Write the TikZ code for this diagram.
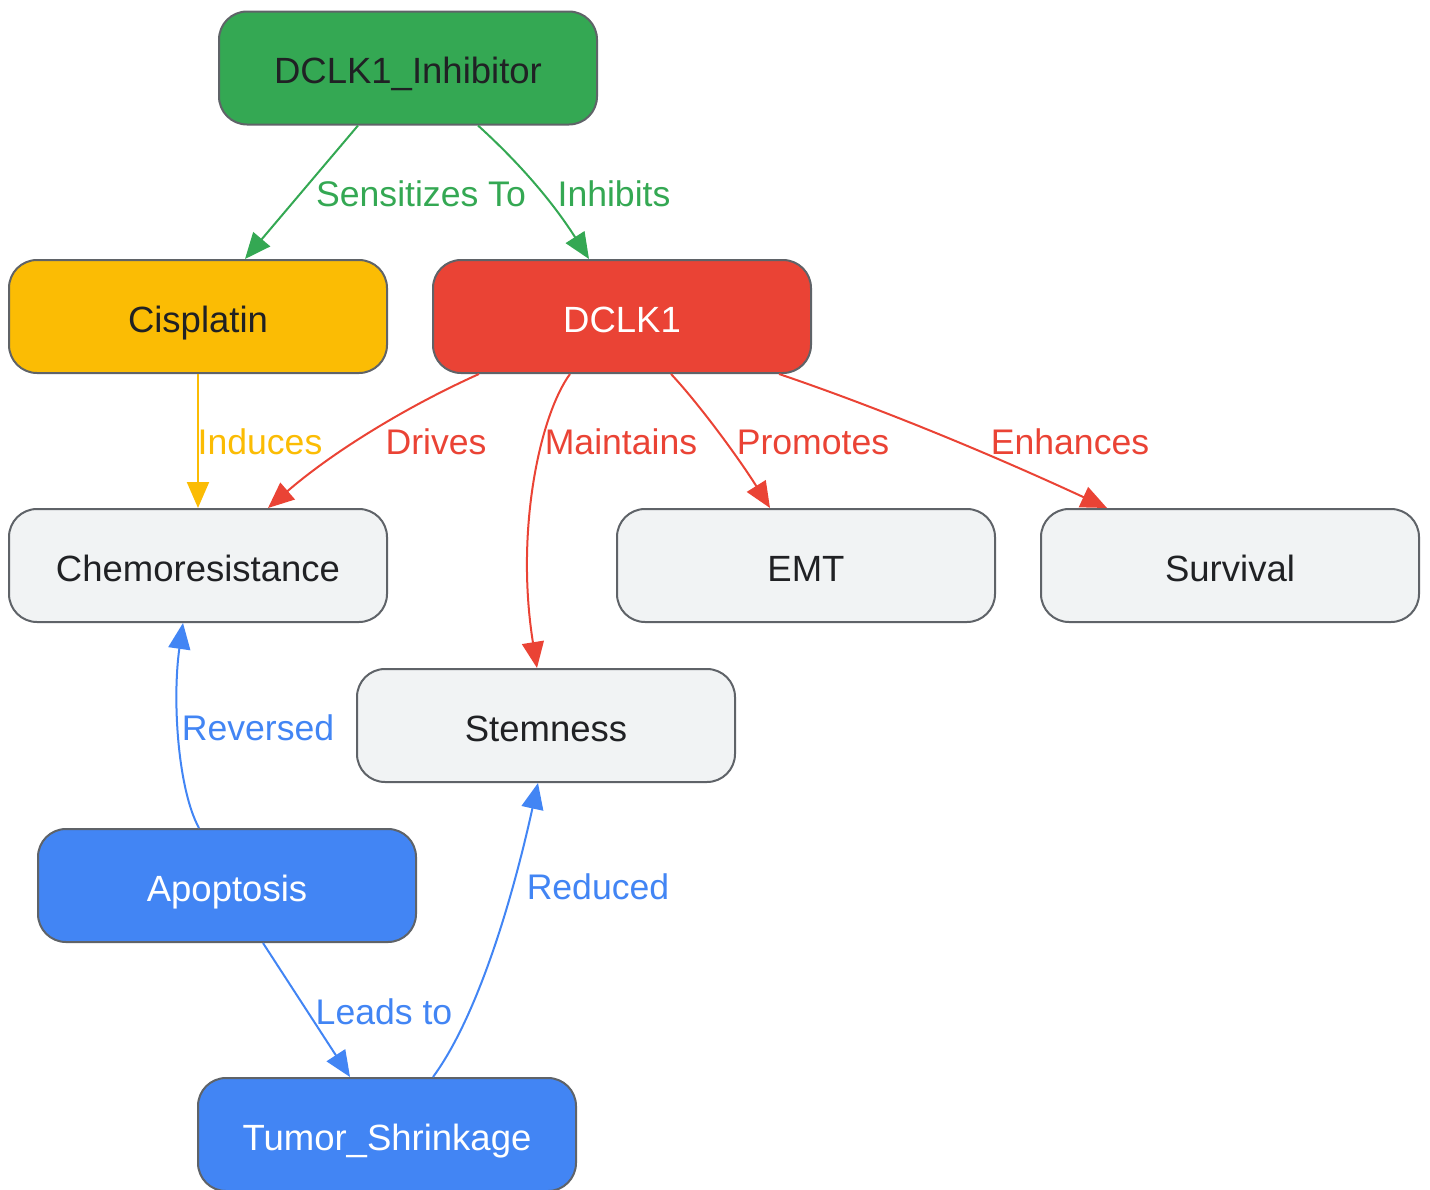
\documentclass[tikz,border=0pt]{standalone}
\usepackage{fontspec}
\setmainfont{Liberation Sans}
\usetikzlibrary{arrows.meta}
\definecolor{gGreen}{HTML}{34A853}
\definecolor{gYellow}{HTML}{FBBC04}
\definecolor{gRed}{HTML}{EA4335}
\definecolor{gBlue}{HTML}{4285F4}
\definecolor{gGrey}{HTML}{F1F3F4}
\definecolor{gBorder}{HTML}{5F6368}
\definecolor{gText}{HTML}{202124}
\begin{document}
\begin{tikzpicture}[x=0.5pt,y=-0.5pt,
  box/.style={draw=gBorder, line width=1pt, rounded corners=14pt,
    minimum width=189pt, minimum height=56.5pt, inner sep=0pt,
    text height=15.5pt, text depth=0pt,
    font=\fontsize{18.25}{22}\selectfont, text=gText},
  greenbox/.style={box, fill=gGreen},
  yellowbox/.style={box, fill=gYellow},
  redbox/.style={box, fill=gRed, text=white},
  greybox/.style={box, fill=gGrey},
  bluebox/.style={box, fill=gBlue, text=white},
  conn/.style={line width=1pt, -{Triangle[length=13pt,width=11pt]}},
  lbl/.style={font=\fontsize{17.8}{22}\selectfont, inner sep=0pt}
]
\useasboundingbox (0,0) rectangle (1430,1189);

\node[greenbox] (inh) at (408,68) {DCLK1\_Inhibitor};
\node[yellowbox] (cis) at (198,316.5) {Cisplatin};
\node[redbox] (dclk) at (622,316.5) {DCLK1};
\node[greybox] (chemo) at (198,565.5) {Chemoresistance};
\node[greybox] (emt) at (806,565.5) {EMT};
\node[greybox] (surv) at (1230,565.5) {Survival};
\node[greybox] (stem) at (546,725.5) {Stemness};
\node[bluebox] (apop) at (227,885.5) {Apoptosis};
\node[bluebox] (tumor) at (387,1134.5) {Tumor\_Shrinkage};

% DCLK1_Inhibitor edges
\draw[conn, gGreen] ([xshift=-25pt]inh.south) -- ([xshift=23.5pt]cis.north)
  node[lbl, text=gGreen] at (421,194) {Sensitizes To};
\draw[conn, gGreen] ([xshift=35pt]inh.south) .. controls (505,150) and (545,190) .. ([xshift=-16.5pt]dclk.north)
  node[lbl, text=gGreen] at (614,194) {Inhibits};

% Cisplatin
\draw[conn, gYellow] (cis.south) -- (chemo.north)
  node[lbl, text=gYellow] at (260,442) {Induces};

% DCLK1 edges
\draw[conn, gRed] ([xshift=-71.5pt]dclk.south) .. controls (410,405) and (335,450) .. ([xshift=35pt]chemo.north)
  node[lbl, text=gRed] at (436,442) {Drives};
\draw[conn, gRed] ([xshift=-26pt]dclk.south) .. controls (540,415) and (515,530) .. ([xshift=-4.5pt]stem.north)
  node[lbl, text=gRed] at (621,442) {Maintains};
\draw[conn, gRed] ([xshift=24.5pt]dclk.south) .. controls (700,405) and (740,460) .. ([xshift=-18pt]emt.north)
  node[lbl, text=gRed] at (813,442) {Promotes};
\draw[conn, gRed] ([xshift=78.5pt]dclk.south) .. controls (850,398) and (960,440) .. ([xshift=-61.5pt]surv.north)
  node[lbl, text=gRed] at (1070,442) {Enhances};

% Blue edges
\draw[conn, gBlue] ([xshift=-14pt]apop.north) .. controls (178,790) and (172,700) .. ([xshift=-7.5pt]chemo.south)
  node[lbl, text=gBlue] at (258,728) {Reversed};
\draw[conn, gBlue] ([xshift=18pt]apop.south) -- ([xshift=-18.5pt]tumor.north)
  node[lbl, text=gBlue] at (384,1012) {Leads to};
\draw[conn, gBlue] ([xshift=23pt]tumor.north) .. controls (475,1020) and (510,910) .. ([xshift=-4pt]stem.south)
  node[lbl, text=gBlue] at (598,887) {Reduced};
\end{tikzpicture}
\end{document}
